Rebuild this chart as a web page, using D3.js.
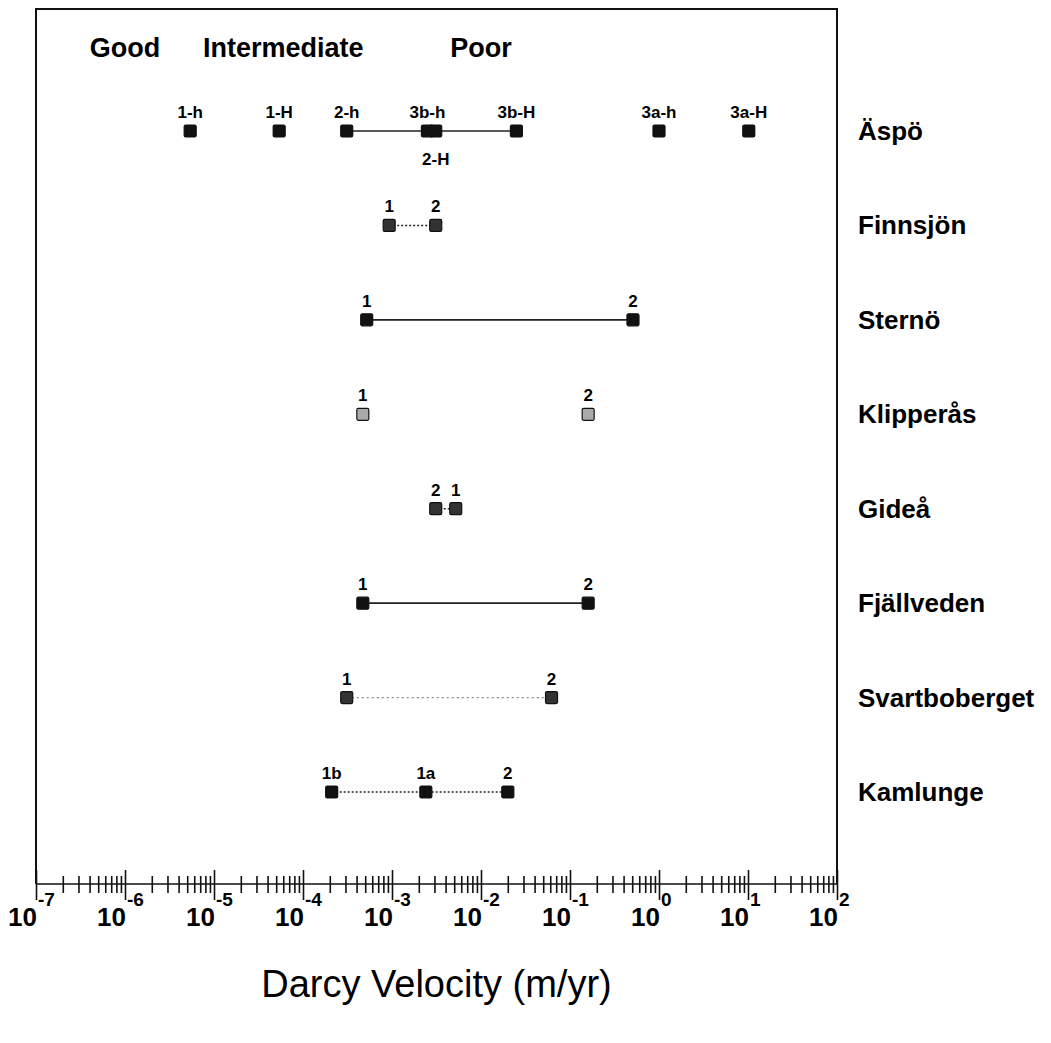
<!DOCTYPE html>
<html>
<head>
<meta charset="utf-8">
<script src="https://cdn.jsdelivr.net/npm/d3@7"></script>
<style>
  body { margin: 0; background: #fff; }
  svg { display: block; font-family: "Liberation Sans", Arial, sans-serif; }
</style>
</head>
<body>
<svg id="chart" width="1051" height="1043"></svg>
<script>
// sites, top to bottom
const sites = ['Äspö', 'Finnsjön', 'Sternö', 'Klipperås', 'Gideå', 'Fjällveden', 'Svartboberget', 'Kamlunge'];

// Darcy velocity estimates (m/yr), one list per site
const aspoLabels = ['1-h', '1-H', '2-h', '3b-h', '2-H', '3b-H', '3a-h', '3a-H'];
const aspoValues = [5.4e-6, 5.4e-5, 3.1e-4, 2.5e-3, 3.1e-3, 2.5e-2, 1.0, 10.2];
const finnsjonLabels = ['1', '2'];
const finnsjonValues = [9.3e-4, 3.1e-3];
const sternoLabels = ['1', '2'];
const sternoValues = [5.2e-4, 0.51];
const klipperasLabels = ['1', '2'];
const klipperasValues = [4.7e-4, 0.16];
const gideaLabels = ['2', '1'];
const gideaValues = [3.1e-3, 5.2e-3];
const fjallvedenLabels = ['1', '2'];
const fjallvedenValues = [4.7e-4, 0.16];
const svartbobergetLabels = ['1', '2'];
const svartbobergetValues = [3.1e-4, 0.062];
const kamlungeLabels = ['1b', '1a', '2'];
const kamlungeValues = [2.1e-4, 2.4e-3, 0.020];

// which points of Äspö are joined by a line
const aspoJoined = ['2-h', '3b-h', '2-H', '3b-H'];

// quality classes across the top
const classNames = ['Good', 'Intermediate', 'Poor'];
const classValues = [1e-6, 6e-5, 1e-2];

const exponents = [-7, -6, -5, -4, -3, -2, -1, 0, 1, 2];

const dim = { l: 36, r: 837, t: 9, b: 884 };

const siteData = [
  { site: 'Äspö', labels: aspoLabels, values: aspoValues, joined: aspoJoined, line: 'solid', marker: 'solid' },
  { site: 'Finnsjön', labels: finnsjonLabels, values: finnsjonValues, joined: finnsjonLabels, line: 'dotted', marker: 'dark' },
  { site: 'Sternö', labels: sternoLabels, values: sternoValues, joined: sternoLabels, line: 'solid', marker: 'solid' },
  { site: 'Klipperås', labels: klipperasLabels, values: klipperasValues, joined: [], line: 'none', marker: 'light' },
  { site: 'Gideå', labels: gideaLabels, values: gideaValues, joined: gideaLabels, line: 'dotted', marker: 'dark' },
  { site: 'Fjällveden', labels: fjallvedenLabels, values: fjallvedenValues, joined: fjallvedenLabels, line: 'solid', marker: 'solid' },
  { site: 'Svartboberget', labels: svartbobergetLabels, values: svartbobergetValues, joined: svartbobergetLabels, line: 'faint', marker: 'dark' },
  { site: 'Kamlunge', labels: kamlungeLabels, values: kamlungeValues, joined: kamlungeLabels, line: 'dotted', marker: 'solid' },
];

const lineStyle = {
  solid: { stroke: '#222', width: 1.6, dash: null },
  dotted: { stroke: '#222', width: 1.6, dash: '2,2' },
  faint: { stroke: '#888', width: 1.2, dash: '2,3' },
};
const markerStyle = {
  solid: { fill: '#111', stroke: '#111' },
  dark: { fill: '#333', stroke: '#111' },
  light: { fill: '#aaa', stroke: '#111' },
};

const svg = d3.select('#chart');

const scaleX = d3.scaleLog().domain([1e-7, 1e2]).range([dim.l, dim.r]);
const scaleY = d3.scalePoint().domain(sites).range([131, 792]);

// frame
svg.append('path')
  .attr('d', `M${dim.l},${dim.b} V${dim.t} H${dim.r} V${dim.b}`)
  .attr('fill', 'none')
  .attr('stroke', '#111')
  .attr('stroke-width', 2);

// class headers
svg.append('g')
  .selectAll('text')
  .data(classNames)
  .join('text')
  .attr('x', (d, i) => scaleX(classValues[i]))
  .attr('y', 57)
  .attr('text-anchor', 'middle')
  .attr('font-size', 27)
  .attr('font-weight', 'bold')
  .text((d) => d);

// axis with decade and minor ticks
const tickValues = [];
exponents.forEach((e, i) => {
  tickValues.push(Math.pow(10, e));
  if (i < exponents.length - 1) {
    for (let m = 2; m <= 9; m++) tickValues.push(m * Math.pow(10, e));
  }
});

const xAxis = svg.append('g')
  .attr('transform', `translate(0,${dim.b})`)
  .call(d3.axisBottom(scaleX).tickValues(tickValues).tickFormat(''));

xAxis.select('.domain').attr('stroke', '#111').attr('stroke-width', 1.6).attr('d', `M${dim.l},0H${dim.r}`);

const isDecade = (v) => Math.abs(Math.log10(v) - Math.round(Math.log10(v))) < 1e-9;

xAxis.selectAll('.tick line')
  .attr('stroke', '#111')
  .attr('stroke-width', 1.6)
  .attr('y1', (d) => (isDecade(d) ? -14 : -8))
  .attr('y2', (d) => (isDecade(d) ? 16 : 9));

// tick labels: 10 with superscript exponent
const tickLabels = svg.append('g')
  .selectAll('g')
  .data(exponents)
  .join('g')
  .attr('transform', (d) => `translate(${scaleX(Math.pow(10, d))},0)`);

tickLabels.append('text')
  .attr('x', 1)
  .attr('y', 926)
  .attr('text-anchor', 'end')
  .attr('font-size', 26)
  .attr('font-weight', 'bold')
  .text('10');

tickLabels.append('text')
  .attr('x', 2)
  .attr('y', 906)
  .attr('font-size', 19)
  .attr('font-weight', 'bold')
  .text((d) => d);

// axis title
svg.append('text')
  .attr('x', (dim.l + dim.r) / 2)
  .attr('y', 997)
  .attr('text-anchor', 'middle')
  .attr('font-size', 38)
  .text('Darcy Velocity (m/yr)');

// site rows
const rows = svg.append('g')
  .selectAll('g')
  .data(siteData)
  .join('g')
  .attr('transform', (d) => `translate(0,${scaleY(d.site)})`);

rows.append('text')
  .attr('x', 858)
  .attr('y', 9)
  .attr('font-size', 26)
  .attr('font-weight', 'bold')
  .text((d) => d.site);

rows.filter((d) => d.joined.length > 1)
  .append('line')
  .attr('x1', (d) => scaleX(d3.min(d.joined, (l) => d.values[d.labels.indexOf(l)])))
  .attr('x2', (d) => scaleX(d3.max(d.joined, (l) => d.values[d.labels.indexOf(l)])))
  .attr('y1', 0)
  .attr('y2', 0)
  .attr('stroke', (d) => lineStyle[d.line].stroke)
  .attr('stroke-width', (d) => lineStyle[d.line].width)
  .attr('stroke-dasharray', (d) => lineStyle[d.line].dash);

const points = rows.selectAll('.point')
  .data((d) => d.labels.map((label, i) => ({ label, value: d.values[i], marker: d.marker })))
  .join('g')
  .attr('class', 'point')
  .attr('transform', (d) => `translate(${scaleX(d.value)},0)`);

points.append('rect')
  .attr('x', -6)
  .attr('y', -6)
  .attr('width', 12)
  .attr('height', 12)
  .attr('rx', 1.5)
  .attr('fill', (d) => markerStyle[d.marker].fill)
  .attr('stroke', (d) => markerStyle[d.marker].stroke)
  .attr('stroke-width', 1.2);

// 2-H sits under 3b-h, so its label goes below
points.append('text')
  .attr('y', (d) => (d.label === '2-H' ? 34 : -13))
  .attr('text-anchor', 'middle')
  .attr('font-size', 17)
  .attr('font-weight', 'bold')
  .text((d) => d.label);
</script>
</body>
</html>
